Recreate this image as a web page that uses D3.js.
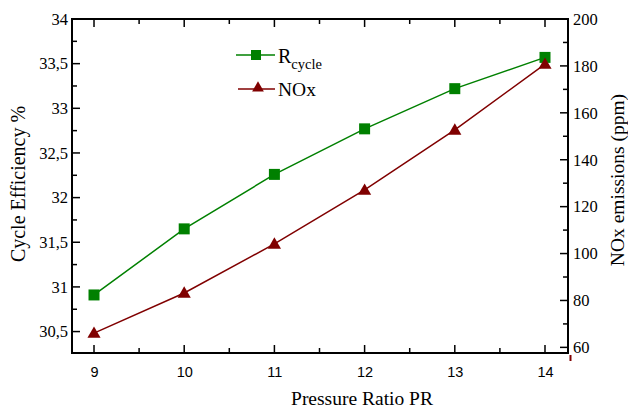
<!DOCTYPE html>
<html><head><meta charset="utf-8">
<script src="https://cdn.jsdelivr.net/npm/d3@7"></script>
<style>body{margin:0;background:#fff}svg{display:block}</style>
</head><body>
<svg id="c" width="628" height="411"></svg>
<script>
const pressureRatio = [9, 10, 11, 12, 13, 14];
const cycleEfficiency = [30.91, 31.65, 32.26, 32.77, 33.22, 33.57];
const noxEmissions = [66.1, 83.2, 104.1, 127.1, 152.7, 180.8];
const xTicks = [9, 10, 11, 12, 13, 14];
const leftTicks = [30.5, 31, 31.5, 32, 32.5, 33, 33.5, 34];
const rightTicks = [60, 80, 100, 120, 140, 160, 180, 200];

const L = 72, R = 568, T = 19, B = 353;
const svg = d3.select('#c');
const x = d3.scaleLinear().domain([8.756, 14.255]).range([L, R]);
const yL = d3.scaleLinear().domain([30.26, 34]).range([B, T]);
const yR = d3.scaleLinear().domain([57.6, 200]).range([B, T]);
const green = '#008000', red = '#800000';
const serif = '"Liberation Serif","Times New Roman",serif';
const sans = '"Liberation Sans",Arial,sans-serif';

const fmtComma = d => String(d).replace('.', ',');
const MAJ = 8, MIN = 5;

// bottom axis
const gB = svg.append('g').attr('transform', `translate(0,${B})`)
  .call(d3.axisBottom(x).tickValues(xTicks).tickSize(0).tickPadding(14).tickFormat(d3.format('d')));
gB.select('.domain').remove();
gB.selectAll('text').attr('font-family', sans).attr('font-size', 14.5).attr('fill', '#000');
// x ticks (inward) bottom and top
const xMinor = d3.range(9.5, 14.01, 1);
xTicks.forEach(v => {
  svg.append('line').attr('x1', x(v)).attr('x2', x(v)).attr('y1', B).attr('y2', B - MAJ).attr('stroke', '#000').attr('stroke-width', 1.5);
  svg.append('line').attr('x1', x(v)).attr('x2', x(v)).attr('y1', T).attr('y2', T + MAJ).attr('stroke', '#000').attr('stroke-width', 1.5);
});
xMinor.forEach(v => {
  svg.append('line').attr('x1', x(v)).attr('x2', x(v)).attr('y1', B).attr('y2', B - MIN).attr('stroke', '#000').attr('stroke-width', 1.5);
  svg.append('line').attr('x1', x(v)).attr('x2', x(v)).attr('y1', T).attr('y2', T + MIN).attr('stroke', '#000').attr('stroke-width', 1.5);
});

// left axis
const gL = svg.append('g').attr('transform', `translate(${L},0)`)
  .call(d3.axisLeft(yL).tickValues(leftTicks).tickSize(0).tickPadding(4).tickFormat(fmtComma));
gL.select('.domain').remove();
gL.selectAll('text').attr('font-family', serif).attr('font-size', 16.5).attr('fill', '#000');
leftTicks.forEach(v => {
  svg.append('line').attr('x1', L).attr('x2', L + MAJ).attr('y1', yL(v)).attr('y2', yL(v)).attr('stroke', '#000').attr('stroke-width', 1.5);
});
d3.range(30.75, 34, 0.5).forEach(v => {
  svg.append('line').attr('x1', L).attr('x2', L + MIN).attr('y1', yL(v)).attr('y2', yL(v)).attr('stroke', '#000').attr('stroke-width', 1.5);
});

// right axis
const gR = svg.append('g').attr('transform', `translate(${R},0)`)
  .call(d3.axisRight(yR).tickValues(rightTicks).tickSize(0).tickPadding(5).tickFormat(d3.format('d')));
gR.select('.domain').remove();
gR.selectAll('text').attr('font-family', serif).attr('font-size', 16.5).attr('fill', '#000');
rightTicks.forEach(v => {
  svg.append('line').attr('x1', R).attr('x2', R - MAJ).attr('y1', yR(v)).attr('y2', yR(v)).attr('stroke', '#000').attr('stroke-width', 1.5);
});
d3.range(70, 200, 20).forEach(v => {
  svg.append('line').attr('x1', R).attr('x2', R - MIN).attr('y1', yR(v)).attr('y2', yR(v)).attr('stroke', '#000').attr('stroke-width', 1.5);
});
// small red mark below right axis
svg.append('line').attr('x1', R + 2.5).attr('x2', R + 2.5).attr('y1', B + 2).attr('y2', B + 8).attr('stroke', red).attr('stroke-width', 2);

// frame
svg.append('rect').attr('x', L).attr('y', T).attr('width', R - L).attr('height', B - T)
  .attr('fill', 'none').attr('stroke', '#000').attr('stroke-width', 2);

// series
const lineR = d3.line().x((d, i) => x(pressureRatio[i])).y(d => yL(d));
const lineN = d3.line().x((d, i) => x(pressureRatio[i])).y(d => yR(d));
svg.append('path').attr('d', lineR(cycleEfficiency)).attr('fill', 'none').attr('stroke', green).attr('stroke-width', 1.5);
svg.append('path').attr('d', lineN(noxEmissions)).attr('fill', 'none').attr('stroke', red).attr('stroke-width', 1.5);
const sq = d3.symbol().type(d3.symbolSquare).size(121);
const tri = d3.symbol().type(d3.symbolTriangle).size(75);
svg.selectAll('.sq').data(cycleEfficiency).enter().append('path')
  .attr('d', sq).attr('transform', (d, i) => `translate(${x(pressureRatio[i])},${yL(d)})`).attr('fill', green);
svg.selectAll('.tri').data(noxEmissions).enter().append('path')
  .attr('d', tri).attr('transform', (d, i) => `translate(${x(pressureRatio[i])},${yR(d) + 1})`).attr('fill', red);

// legend
svg.append('line').attr('x1', 236).attr('x2', 275).attr('y1', 55).attr('y2', 55).attr('stroke', green).attr('stroke-width', 1.5);
svg.append('path').attr('d', d3.symbol().type(d3.symbolSquare).size(100)).attr('transform', 'translate(256,55)').attr('fill', green);
const tR = svg.append('text').attr('x', 278).attr('y', 63).attr('font-family', serif).attr('font-size', 20).attr('fill', '#000');
tR.append('tspan').text('R');
tR.append('tspan').attr('dy', 6).attr('font-size', 14.5).text('cycle');
svg.append('line').attr('x1', 238).attr('x2', 275).attr('y1', 89).attr('y2', 89).attr('stroke', red).attr('stroke-width', 1.5);
svg.append('path').attr('d', d3.symbol().type(d3.symbolTriangle).size(60)).attr('transform', 'translate(258,88)').attr('fill', red);
svg.append('text').attr('x', 278).attr('y', 96).attr('font-family', serif).attr('font-size', 19.5).attr('fill', '#000').text('NOx');

// axis titles
svg.append('text').attr('x', 362).attr('y', 405).attr('text-anchor', 'middle').attr('font-family', serif).attr('font-size', 19.5).attr('fill', '#000').text('Pressure Ratio PR');
svg.append('text').attr('transform', 'translate(25,184) rotate(-90)').attr('text-anchor', 'middle').attr('font-family', serif).attr('font-size', 20).attr('fill', '#000').text('Cycle Efficiency %');
svg.append('text').attr('transform', 'translate(624,180) rotate(-90)').attr('text-anchor', 'middle').attr('font-family', serif).attr('font-size', 19.5).attr('fill', '#000').text('NOx emissions (ppm)');
</script>
</body></html>
